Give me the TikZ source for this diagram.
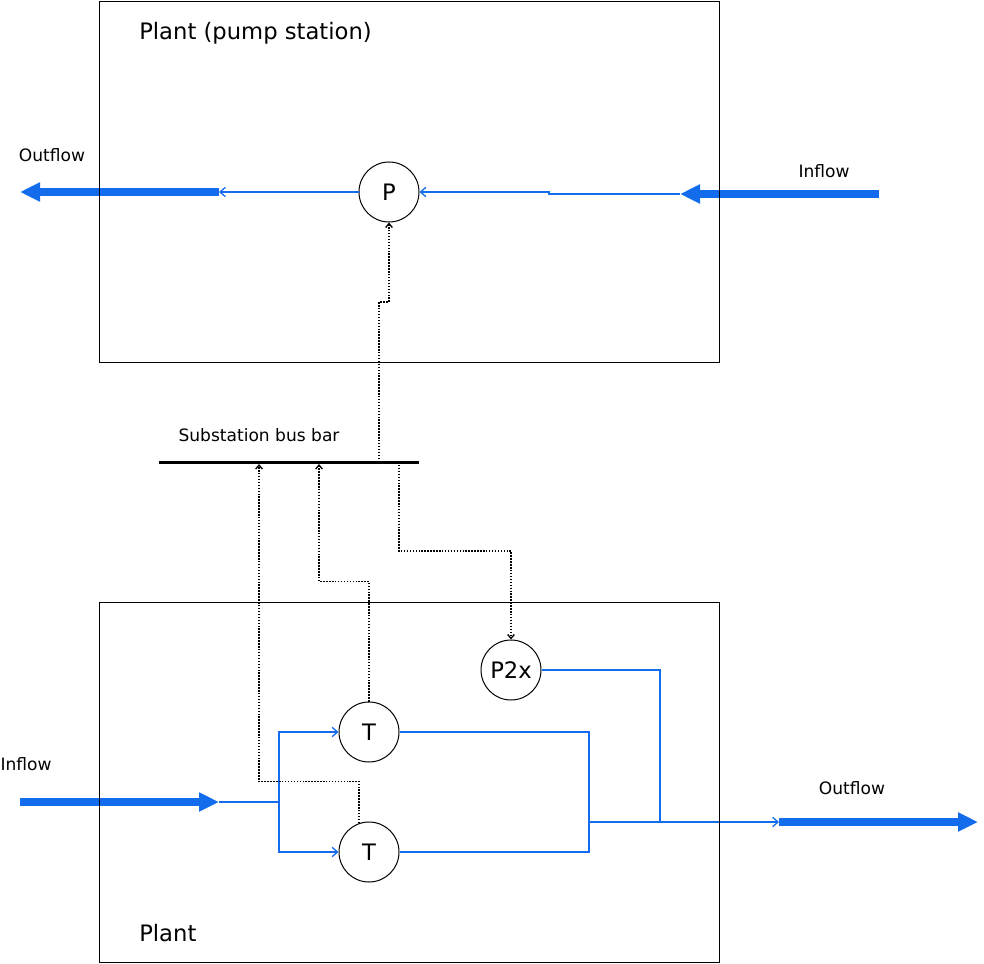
\documentclass[tikz,border=0pt]{standalone}
\usepackage{fontspec}
\setmainfont{DejaVu Sans}
\usetikzlibrary{arrows.meta}
\definecolor{flowblue}{RGB}{18,108,235}
\begin{document}
\begin{tikzpicture}[x=0.75pt,y=-0.75pt,
  flow/.style={flowblue,line width=1pt,-{Straight Barb[length=4pt,width=7pt]}},
  pipe/.style={flowblue,line width=1pt},
  bigflow/.style={flowblue,line width=6pt,-{Triangle[length=15pt,width=13.5pt]}},
  ctrl/.style={black,line width=1pt,dash pattern=on 1.1pt off 1.1pt,-{Straight Barb[length=3pt,width=5pt]}},
  unit/.style={draw,circle,line width=0.75pt,minimum size=45pt,inner sep=0pt,font=\fontsize{17}{20}\selectfont},
  lbl/.style={font=\fontsize{12.8}{15}\selectfont},
  ttl/.style={anchor=west,inner sep=0pt,font=\fontsize{17}{20}\selectfont}]
\useasboundingbox (0,0) rectangle (984,963);
% units
\node[unit] (P) at (389,192) {P};
\node[unit] (P2x) at (511,670) {P2x};
\node[unit] (T1) at (369,732) {T};
\node[unit] (T2) at (369,852) {T};
% bus bar and its taps
\coordinate (busW) at (159,462);
\coordinate (busE) at (419,462);
\coordinate (busA) at (259,464);
\coordinate (busB) at (319,464);
\coordinate (busC) at (379,462);
\coordinate (busD) at (399,462);
\draw[line width=2.25pt] (busW) -- (busE);
\node[lbl] (buslbl) at (259,435) {Substation bus bar};
% pump station flows
\coordinate (topout) at (219,192);
\coordinate (topoutEnd) at (20,192);
\coordinate (topinStart) at (879,194);
\coordinate (topin) at (680,194);
\draw[bigflow] (topout) -- (topoutEnd);
\draw[flow] (P.west) -- (topout);
\draw[bigflow] (topinStart) -- (topin);
\draw[flow] (topin) -- ++(-131,0) |- (P.east);
\node[lbl] (outlblA) at (52,155) {Outflow};
\node[lbl] (inlblA) at (824,171) {Inflow};
% plant flows
\coordinate (botinStart) at (20,802);
\coordinate (botin) at (219,802);
\coordinate (junc) at (589,822);
\coordinate (p2xjoin) at (660,822);
\coordinate (botout) at (779,822);
\coordinate (botoutEnd) at (978,822);
\draw[bigflow] (botinStart) -- (botin);
\draw[flow] (botin) -- ++(60,0) |- (T1.west);
\draw[flow] (botin) -- ++(60,0) |- (T2.west);
\draw[pipe] (T1.east) -| (junc);
\draw[pipe] (T2.east) -| (junc);
\draw[pipe] (P2x.east) -| (p2xjoin);
\draw[flow] (junc) -- (botout);
\draw[bigflow] (botout) -- (botoutEnd);
\node[lbl] (inlblB) at (26,764) {Inflow};
\node[lbl] (outlblB) at (852,788) {Outflow};
% power links
\draw[ctrl] (busC) -- ++(0,-160) -| (P.south);
\draw[ctrl] (busD) -- ++(0,89) -| (P2x.north);
\draw[ctrl] (T1.north) -- ++(0,-120) -| (busB);
\draw[ctrl] (T2.109.5) -- ++(0,-41.7) -| (busA);
% plant boxes
\draw[line width=0.75pt] (99,2) rectangle (719,362);
\draw[line width=0.75pt] (99,602) rectangle (719,962);
\node[ttl] (topttl) at (139,33) {Plant (pump station)};
\node[ttl] (botttl) at (139,933) {Plant};
\end{tikzpicture}
\end{document}
